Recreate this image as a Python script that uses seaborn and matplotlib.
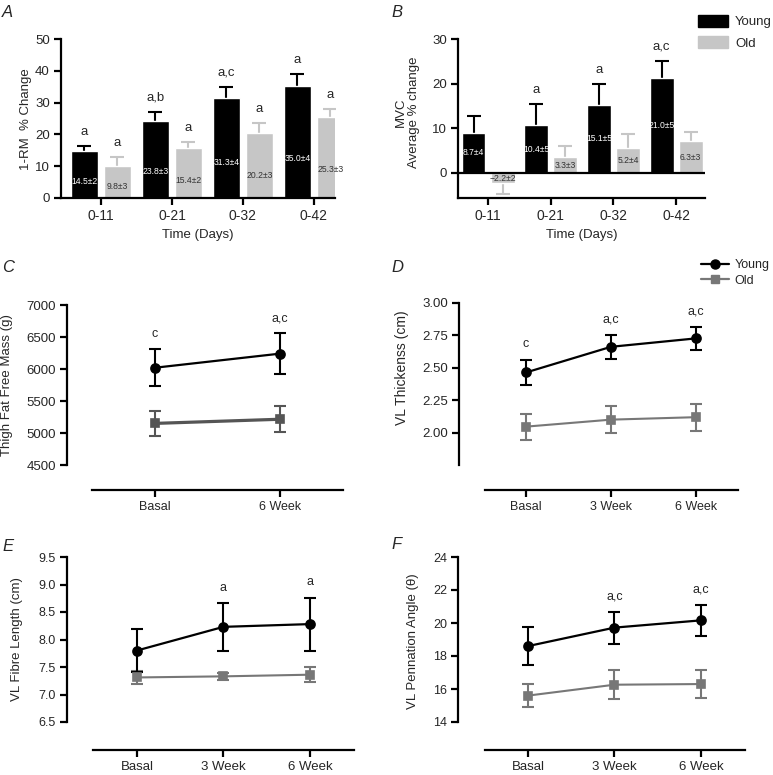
import matplotlib
matplotlib.use("Agg")
import matplotlib.pyplot as plt
from matplotlib.lines import Line2D
from matplotlib.patches import Patch
import seaborn as sns
import pandas as pd

# ---- data ----
days = ["0-11", "0-21", "0-32", "0-42"]

rm_young = [14.7, 24.1, 31.5, 35.2]
rm_young_err = [1.7, 3.0, 3.5, 3.7]
rm_old = [10.1, 15.7, 20.5, 25.5]
rm_old_err = [2.7, 1.9, 3.1, 2.4]
rm_young_txt = ["14.5±2", "23.8±3", "31.3±4", "35.0±4"]
rm_old_txt = ["9.8±3", "15.4±2", "20.2±3", "25.3±3"]
rm_young_sig = ["a", "a,b", "a,c", "a"]
rm_old_sig = ["a", "a", "a", "a"]

mvc_young = [9.0, 10.7, 15.3, 21.2]
mvc_young_err = [3.8, 4.7, 4.6, 3.9]
mvc_old = [-2.3, 3.5, 5.5, 7.1]
mvc_old_err = [2.5, 2.6, 3.2, 2.1]
mvc_young_txt = ["8.7±4", "10.4±5", "15.1±5", "21.0±5"]
mvc_old_txt = ["−2.2±2", "3.3±3", "5.2±4", "6.3±3"]
mvc_young_sig = ["", "a", "a", "a,c"]
mvc_old_sig = ["", "", "", ""]

weeks2 = ["Basal", "6 Week"]
weeks3 = ["Basal", "3 Week", "6 Week"]

ffm_young = [6020, 6240]
ffm_young_err = [285, 315]
ffm_old = [5150, 5215]
ffm_old_err = [195, 200]
ffm_sig = ["c", "a,c"]

thick_young = [2.464, 2.662, 2.727]
thick_young_err = [0.100, 0.093, 0.090]
thick_old = [2.046, 2.100, 2.119]
thick_old_err = [0.100, 0.105, 0.105]
thick_sig = ["c", "a,c", "a,c"]

fibre_young = [7.80, 8.23, 8.28]
fibre_young_err = [0.39, 0.43, 0.48]
fibre_old = [7.31, 7.33, 7.36]
fibre_old_err = [0.12, 0.07, 0.14]
fibre_sig = ["", "a", "a"]

penn_young = [18.6, 19.72, 20.16]
penn_young_err = [1.17, 0.97, 0.95]
penn_old = [15.6, 16.26, 16.3]
penn_old_err = [0.68, 0.89, 0.84]
penn_sig = ["", "a,c", "a,c"]

W, H = 773, 775
BAR_OLD = "#c6c6c6"

sns.set_style("ticks")
plt.rcParams["font.family"] = ["Liberation Sans", "DejaVu Sans"]

fig = plt.figure(figsize=(W / 100, H / 100), dpi=100)


def px_rect(left, top, right, bottom):
    return [left / W, 1 - bottom / H, (right - left) / W, (bottom - top) / H]


def style_axes(ax, ysize=9.5, xsize=9.5):
    sns.despine(ax=ax)
    for side in ["left", "bottom"]:
        ax.spines[side].set_linewidth(1.6)
        ax.spines[side].set_color("black")
    ax.tick_params(width=1.6, length=5, color="black", pad=3)
    ax.tick_params(axis="y", labelsize=ysize)
    ax.tick_params(axis="x", labelsize=xsize)


def plot_bars(ax, young, young_err, old, old_err, young_txt, old_txt,
              young_sig, old_sig, label_frac):
    df = pd.DataFrame({
        "time": days * 2,
        "value": young + old,
        "group": ["Young"] * len(days) + ["Old"] * len(days),
    })
    sns.barplot(data=df, x="time", y="value", hue="group",
                palette={"Young": "black", "Old": BAR_OLD}, saturation=1,
                width=0.93, gap=0.18, errorbar=None, legend=False, ax=ax)
    groups = [(young, young_err, young_txt, young_sig, "black", "white"),
              (old, old_err, old_txt, old_sig, BAR_OLD, "#333333")]
    for cont, (vals, errs, txts, sigs, col, tcol) in zip(ax.containers, groups):
        for bar, v, e, t, s in zip(cont, vals, errs, txts, sigs):
            x = bar.get_x() + bar.get_width() / 2
            tip = v + e if v >= 0 else v - e
            # one-sided error bar: stem behind the bar, cap at the tip only
            ax.errorbar(x, v, yerr=[[0], [e]] if v >= 0 else [[e], [0]],
                        color=col, elinewidth=1.5, capsize=0, zorder=0.5)
            ax.plot(x, tip, marker="_", ms=9.5, mew=1.5, color=col, zorder=0.5)
            ax.text(x, v * label_frac, t, color=tcol, ha="center",
                    va="center", fontsize=6.2, zorder=5)
            if s:
                ax.annotate(s, (x, tip), xytext=(0, 10),
                            textcoords="offset points", ha="center",
                            va="center", fontsize=9.5)
    ax.set_xlabel("Time (Days)", fontsize=9.5, labelpad=4)
    style_axes(ax, 9.5, 10)


def plot_lines(ax, times, young, young_err, old, old_err, sig, old_color, old_lw):
    df = pd.DataFrame({
        "time": times * 2,
        "value": young + old,
        "group": ["Young"] * len(times) + ["Old"] * len(times),
    })
    sns.pointplot(data=df, x="time", y="value", hue="group",
                  palette={"Young": "black", "Old": old_color},
                  markers=["o", "s"], linestyles=["-", "-"], errorbar=None,
                  legend=False, markersize=6.5, linewidth=1.6, ax=ax)
    for line in ax.lines:
        if line.get_color() == old_color:
            line.set_linewidth(old_lw)
            line.set_markersize(5.8)
    pos = list(range(len(times)))
    ax.errorbar(pos, old, yerr=old_err, fmt="none", ecolor=old_color,
                elinewidth=1.5, capsize=4.2, capthick=1.5, zorder=1)
    ax.errorbar(pos, young, yerr=young_err, fmt="none", ecolor="black",
                elinewidth=1.5, capsize=4.2, capthick=1.5, zorder=1)
    for x, v, e, s in zip(pos, young, young_err, sig):
        if s:
            ax.annotate(s, (x, v + e), xytext=(0, 11),
                        textcoords="offset points", ha="center",
                        va="center", fontsize=9)
    ax.set_xlabel("")


# ---- A: 1-RM ----
axA = fig.add_axes(px_rect(61, 39, 335, 198))
plot_bars(axA, rm_young, rm_young_err, rm_old, rm_old_err, rm_young_txt,
          rm_old_txt, rm_young_sig, rm_old_sig, 0.35)
axA.set_ylim(0, 50)
axA.set_yticks([0, 10, 20, 30, 40, 50])
axA.set_xlim(-0.563, 3.296)
axA.set_ylabel("1-RM  % Change", fontsize=9.5)
axA.yaxis.set_label_coords(32 / W, 1 - 119 / H, transform=fig.transFigure)

# ---- B: MVC ----
axB = fig.add_axes(px_rect(458, 39, 705, 198))
plot_bars(axB, mvc_young, mvc_young_err, mvc_old, mvc_old_err, mvc_young_txt,
          mvc_old_txt, mvc_young_sig, mvc_old_sig, 0.5)
axB.axhline(0, color="black", lw=1.6, zorder=4)
axB.set_ylim(-5.6, 30)
axB.set_yticks([0, 10, 20, 30])
axB.set_xlim(-0.48, 3.46)
axB.set_ylabel("MVC\nAverage % change", fontsize=9.5, linespacing=1.15)
axB.yaxis.set_label_coords(420 / W, 1 - 112 / H, transform=fig.transFigure)
fig.legend(handles=[Patch(color="black"), Patch(color=BAR_OLD)],
           labels=["Young", "Old"], loc="upper left",
           bbox_to_anchor=(698 / W, 1 - 15 / H), frameon=False, fontsize=9.5,
           handlelength=2.3, handleheight=1.0, labelspacing=0.6,
           handletextpad=0.5, borderaxespad=0, borderpad=0)

# ---- C: thigh fat free mass ----
axC = fig.add_axes(px_rect(67, 305, 343, 465))
plot_lines(axC, weeks2, ffm_young, ffm_young_err, ffm_old, ffm_old_err,
           ffm_sig, "#555555", 2.3)
axC.set_ylim(4500, 7000)
axC.set_yticks([4500, 5000, 5500, 6000, 6500, 7000])
axC.set_xlim(-0.704, 1.504)
style_axes(axC, 9.5, 9)
axC.spines["bottom"].set_position(("outward", 18))
axC.spines["bottom"].set_bounds(-0.504, 1.504)
axC.set_ylabel("Thigh Fat Free Mass (g)", fontsize=9.5)
axC.yaxis.set_label_coords(13 / W, 1 - 385 / H, transform=fig.transFigure)

# ---- D: VL thickness ----
axD = fig.add_axes(px_rect(459, 303, 738, 465))
plot_lines(axD, weeks3, thick_young, thick_young_err, thick_old, thick_old_err,
           thick_sig, "#777777", 1.5)
axD.set_ylim(1.75, 3.0)
axD.set_yticks([2.0, 2.25, 2.5, 2.75, 3.0])
axD.set_yticklabels([f"{t:.2f}" for t in [2.0, 2.25, 2.5, 2.75, 3.0]])
axD.set_xlim(-0.788, 2.494)
style_axes(axD, 9.5, 9)
axD.spines["bottom"].set_position(("outward", 18))
axD.spines["bottom"].set_bounds(-0.482, 2.494)
axD.set_ylabel("VL Thickenss (cm)", fontsize=10)
axD.yaxis.set_label_coords(409 / W, 1 - 368 / H, transform=fig.transFigure)
fig.legend(handles=[Line2D([0], [0], color="black", marker="o", lw=1.6, ms=6.5),
                    Line2D([0], [0], color="#777777", marker="s", lw=1.6, ms=5.8)],
           labels=["Young", "Old"], loc="upper left",
           bbox_to_anchor=(701 / W, 1 - 259 / H), frameon=False, fontsize=9,
           handlelength=2.2, labelspacing=0.3, handletextpad=0.5,
           borderaxespad=0, borderpad=0)

# ---- E: VL fibre length ----
axE = fig.add_axes(px_rect(67, 557, 354, 722))
plot_lines(axE, weeks3, fibre_young, fibre_young_err, fibre_old, fibre_old_err,
           fibre_sig, "#777777", 1.5)
axE.set_ylim(6.5, 9.5)
axE.set_yticks([6.5, 7.0, 7.5, 8.0, 8.5, 9.0, 9.5])
axE.set_yticklabels([f"{t:.1f}" for t in [6.5, 7.0, 7.5, 8.0, 8.5, 9.0, 9.5]])
axE.set_xlim(-0.81, 2.51)
style_axes(axE, 9, 9.5)
axE.spines["bottom"].set_position(("outward", 20))
axE.spines["bottom"].set_bounds(-0.51, 2.51)
axE.set_ylabel("VL Fibre Length (cm)", fontsize=9.5)
axE.yaxis.set_label_coords(23 / W, 1 - 639 / H, transform=fig.transFigure)

# ---- F: VL pennation angle ----
axF = fig.add_axes(px_rect(458, 557, 745, 722))
plot_lines(axF, weeks3, penn_young, penn_young_err, penn_old, penn_old_err,
           penn_sig, "#777777", 1.5)
axF.set_ylim(14, 24)
axF.set_yticks([14, 16, 18, 20, 22, 24])
axF.set_xlim(-0.81, 2.51)
style_axes(axF, 9, 9.5)
axF.spines["bottom"].set_position(("outward", 20))
axF.spines["bottom"].set_bounds(-0.497, 2.51)
axF.set_ylabel("VL Pennation Angle (θ)", fontsize=9.5)
axF.yaxis.set_label_coords(419 / W, 1 - 641 / H, transform=fig.transFigure)

# panel letters
for letter, x, y in [("A", 2, 5), ("B", 391, 5), ("C", 2, 260), ("D", 391, 260),
                     ("E", 2, 539), ("F", 391, 537)]:
    fig.text(x / W, 1 - y / H, letter, fontsize=12, style="italic",
             ha="left", va="top")

fig.savefig("out.png", dpi=100)
